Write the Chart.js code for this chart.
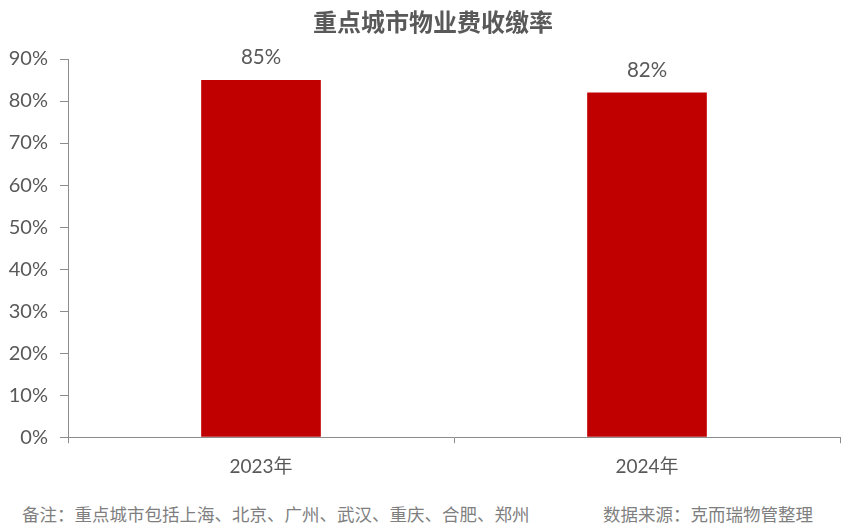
<!DOCTYPE html>
<html>
<head>
<meta charset="utf-8">
<script src="https://cdn.jsdelivr.net/npm/chart.js@4"></script>
<style>
  body { margin: 0; background: #fff; }
  #wrap { position: relative; width: 842px; height: 530px; }
  #box { position: absolute; left: 0; top: 0; width: 842px; height: 490px; }
  #title { position: absolute; left: 313px; top: 3px; font-family: "Noto Sans CJK SC", sans-serif; font-size: 24px; font-weight: bold; color: #595959; line-height: 36px; }
  .note { position: absolute; top: 501px; font-family: "Noto Sans CJK SC", sans-serif; font-size: 17.5px; color: #7f7f7f; }
</style>
</head>
<body>
<div id="wrap">
  <div id="box"><canvas id="chart1"></canvas></div>
  <div id="title">重点城市物业费收缴率</div>
  <div class="note" style="left:22px">备注：重点城市包括上海、北京、广州、武汉、重庆、合肥、郑州</div>
  <div class="note" style="left:603px">数据来源：克而瑞物管整理</div>
</div>
<script>
var years = ["2023年", "2024年"];
var rates = [85, 82];
var yTicks = [0, 10, 20, 30, 40, 50, 60, 70, 80, 90];

var fontFam = 'Lato, "Noto Sans CJK SC", sans-serif';
var textColor = '#595959';

var barLabels = {
    id: 'barLabels',
    afterDatasetsDraw: function (chart) {
        var ctx = chart.ctx;
        var meta = chart.getDatasetMeta(0);
        ctx.save();
        ctx.font = '20.5px ' + fontFam;
        ctx.fillStyle = textColor;
        ctx.textAlign = 'center';
        ctx.textBaseline = 'bottom';
        meta.data.forEach(function (bar, i) {
            ctx.fillText(rates[i] + '%', bar.x, bar.y - 12);
        });
        ctx.restore();
    }
};

var chart1 = document.getElementById('chart1').getContext('2d');
var myChart1 = new Chart(chart1, {
    type: 'bar',
    data: {
        labels: years,
        datasets: [{
            label: "物业费收缴率",
            data: rates,
            backgroundColor: '#C00000',
            barPercentage: 0.31,
            categoryPercentage: 1
        }]
    },
    options: {
        responsive: true,
        maintainAspectRatio: false,
        animation: false,
        layout: { padding: { left: 0, right: 2, top: 59, bottom: 0 } },
        plugins: {
            legend: { display: false },
            tooltip: { enabled: false },
            title: { display: false }
        },
        scales: {
            x: {
                grid: { display: true, drawOnChartArea: false, drawTicks: true, tickLength: 6, color: '#8c8c8c', offset: true },
                border: { color: '#8c8c8c' },
                ticks: { color: textColor, font: { family: fontFam, size: 19 }, padding: 12 }
            },
            y: {
                min: 0,
                max: 90,
                afterBuildTicks: function (scale) {
                    scale.ticks = yTicks.map(function (v) { return { value: v }; });
                },
                afterFit: function (scale) { scale.width = 68; },
                grid: { display: true, drawOnChartArea: false, drawTicks: true, tickLength: 8, color: '#8c8c8c' },
                border: { color: '#8c8c8c' },
                ticks: {
                    color: textColor,
                    font: { family: fontFam, size: 20 },
                    padding: 12,
                    callback: function (v) { return v + '%'; }
                }
            }
        }
    },
    plugins: [barLabels]
});
</script>
</body>
</html>
